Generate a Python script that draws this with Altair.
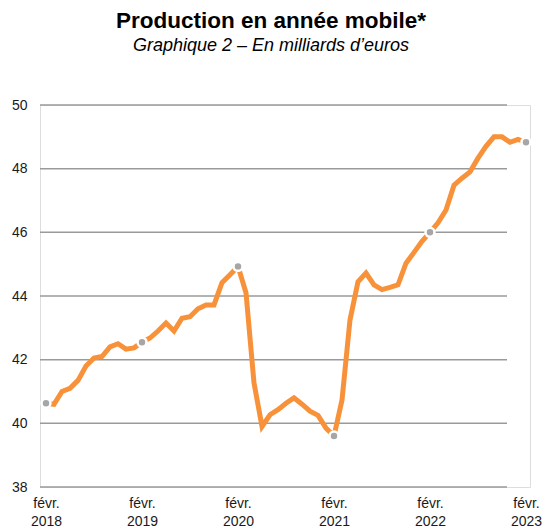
import altair as alt
import pandas as pd

# Monthly rolling-year production, Feb 2018 .. Feb 2023 (billions of euros)
values = [
    40.63, 40.60, 41.00, 41.10, 41.35, 41.80, 42.05, 42.10, 42.40, 42.50, 42.33, 42.37,
    42.55, 42.68, 42.90, 43.15, 42.90, 43.30, 43.35, 43.60, 43.72, 43.72, 44.42, 44.67,
    44.93, 44.10, 41.27, 39.90, 40.27, 40.43, 40.63, 40.80, 40.60, 40.38, 40.25, 39.85,
    39.60, 40.73, 43.25, 44.45, 44.72, 44.35, 44.20, 44.27, 44.35, 45.03, 45.37, 45.72,
    46.00, 46.30, 46.70, 47.48, 47.70, 47.90, 48.33, 48.70, 49.00, 49.00, 48.83, 48.92,
    48.83,
]
start_year = 2018
tick_months = [0, 12, 24, 36, 48, 60]
y_ticks = [38, 40, 42, 44, 46, 48, 50]

df = pd.DataFrame({"m": list(range(len(values))), "v": values})
pts = df[df["m"].isin(tick_months)]
grid = pd.DataFrame({"g": y_ticks})

W, H = 490, 382
xs = alt.Scale(domain=[-0.75, 60.5], nice=False, zero=False)
ys = alt.Scale(domain=[38, 50], nice=False, zero=False)

rules = alt.Chart(grid).mark_rule(color="#9a9a9a", strokeWidth=1.5).encode(
    y=alt.Y("g:Q", scale=ys, axis=alt.Axis(
        values=y_ticks, grid=False, domain=False, ticks=False,
        labelPadding=13, labelFontSize=14, labelColor="#1a1a1a", title=None)),
    x=alt.value(0), x2=alt.value(467),
)

line = alt.Chart(df).mark_line(color="#F7923A", strokeWidth=5, clip=False).encode(
    x=alt.X("m:Q", scale=xs, axis=alt.Axis(
        values=tick_months,
        labelExpr="['févr.', '' + (" + str(start_year) + " + datum.value / 12)]",
        grid=False, domain=False, ticks=False, labelPadding=9,
        labelFontSize=14, labelLineHeight=18, labelColor="#1a1a1a",
        labelFlush=False, labelOverlap=False, title=None)),
    y=alt.Y("v:Q", scale=ys),
)

dots = alt.Chart(pts).mark_circle(
    color="#A6A6A6", opacity=1, size=80, stroke="white", strokeWidth=2.5, clip=False
).encode(
    x=alt.X("m:Q", scale=xs),
    y=alt.Y("v:Q", scale=ys),
)

chart = alt.layer(rules, line, dots).properties(
    width=W, height=H,
    title=alt.TitleParams(
        text="Production en année mobile*",
        subtitle="Graphique 2 – En milliards d’euros",
        fontSize=22.5, fontWeight="bold", color="#000000",
        subtitleFontSize=18, subtitleFontStyle="italic", subtitleColor="#000000",
        subtitlePadding=5, anchor="middle", offset=43, dx=-14,
    ),
    autosize=alt.AutoSizeParams(type="none"),
    padding={"left": 40, "top": 105, "right": 17, "bottom": 43},
).configure_view(stroke=None).configure(font="Liberation Sans")

chart.save("out.html", embed_options={"renderer": "svg", "actions": False})
